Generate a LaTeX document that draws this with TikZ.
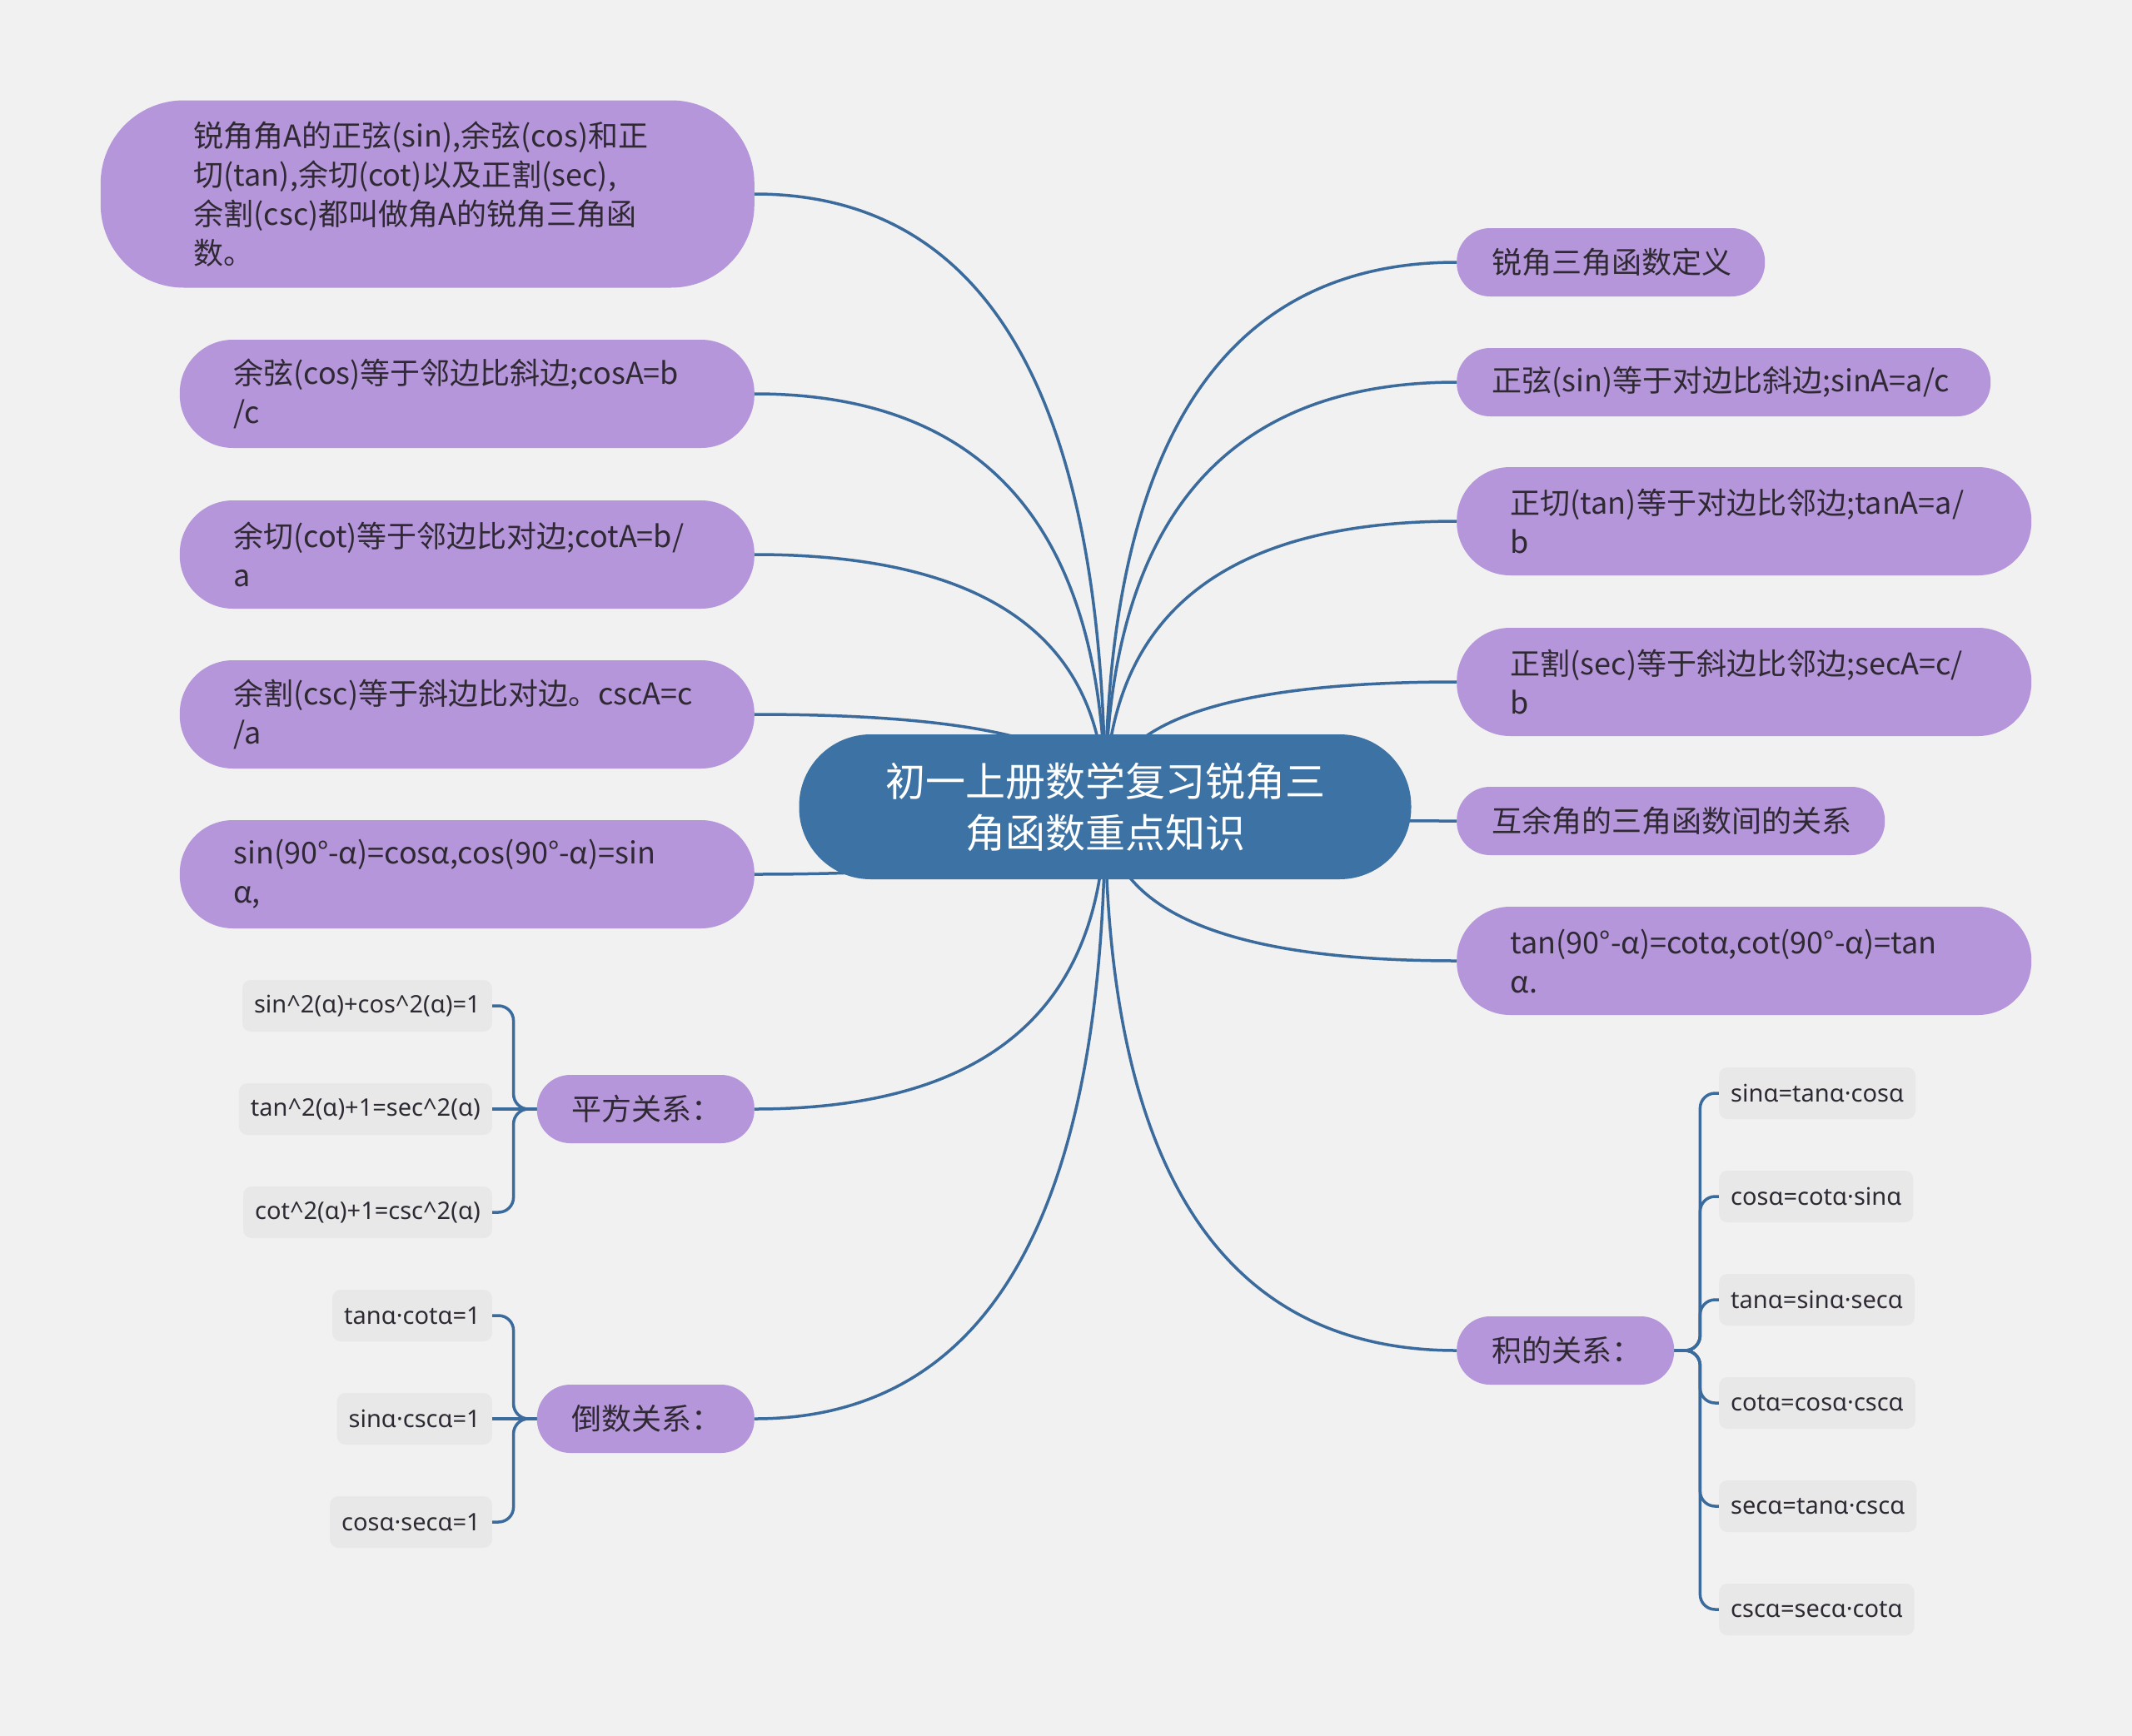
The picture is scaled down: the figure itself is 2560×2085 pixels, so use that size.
\documentclass[tikz,border=0pt]{standalone}
\usepackage{fontspec}
\setmainfont{Noto Sans CJK SC}
\newfontfamily\leaffont{Noto Sans}
\usepackage{tikz}
\usetikzlibrary{positioning, calc, backgrounds}
\usepackage{xcolor}
\definecolor{bgGray}{HTML}{F1F1F1}
\definecolor{rootBlue}{HTML}{3D72A4}
\definecolor{topicPurple}{HTML}{B696DA}
\definecolor{leafGray}{HTML}{E8E8E8}
\definecolor{lineBlue}{HTML}{3A6B9C}
\definecolor{inkDark}{HTML}{2E2933}
\hyphenpenalty=10000
\exhyphenpenalty=10000
\newcommand\caret{\char"5E\relax}

\begin{document}
\begin{tikzpicture}[x=1pt, y=-1pt,
    root/.style={fill=rootBlue, text=white, inner sep=0pt, minimum width=735pt, minimum height=174pt,
        rounded corners=86pt, align=center, font=\fontsize{48pt}{62pt}\selectfont},
    topic/.style={fill=topicPurple, text=inkDark, inner sep=0pt, minimum height=82pt,
        rounded corners=40pt, align=left, font=\fontsize{36pt}{47pt}\selectfont},
    twoline/.style={topic, minimum width=690pt, minimum height=130pt, rounded corners=64pt, text width=561pt},
    leaf/.style={fill=leafGray, text=inkDark, inner xsep=14pt, inner ysep=0pt, minimum height=62pt,
        rounded corners=10pt, font=\leaffont\fontsize{29pt}{34pt}\selectfont},
    branch/.style={draw=lineBlue, line width=3.5pt},
    twig/.style={draw=lineBlue, line width=3.5pt, rounded corners=18pt}]

    % Canvas
    \begin{scope}[on background layer]
        \fill[bgGray] (0,0) rectangle (2560,2085);
    \end{scope}
    \useasboundingbox (0,0) rectangle (2560,2085);

    % Root
    \node[root] (root) at (1327,969) {初一上册数学复习锐角三\\角函数重点知识};

    % Left topics
    \node[topic, anchor=east, minimum width=785pt, minimum height=225pt, rounded corners=100pt, text width=561pt]
        (def) at (906,233) {锐角角A的正弦(sin),余弦(cos)和正\\切(tan),余切(cot)以及正割(sec),\\余割(csc)都叫做角A的锐角三角函\\数。};
    \node[twoline, anchor=east] (cos) at (906,473) {余弦(cos)等于邻边比斜边;cosA=b\\/c};
    \node[twoline, anchor=east] (cot) at (906,666) {余切(cot)等于邻边比对边;cotA=b/\\a};
    \node[twoline, anchor=east] (csc) at (906,858) {余割(csc)等于斜边比对边。cscA=c\\/a};
    \node[twoline, anchor=east] (cofn) at (906,1050) {sin(90°-α)=cosα,cos(90°-α)=sin\\α,};
    \node[topic, anchor=east, minimum width=261pt, text width=177pt] (sq) at (906,1332) {平方关系：};
    \node[topic, anchor=east, minimum width=261pt, text width=177pt] (rec) at (906,1704) {倒数关系：};

    % Right topics
    \node[topic, anchor=west, minimum width=370pt, text width=286pt] (title) at (1749,315) {锐角三角函数定义};
    \node[topic, anchor=west, minimum width=641pt, text width=557pt] (sin) at (1749,459) {正弦(sin)等于对边比斜边;sinA=a/c};
    \node[twoline, anchor=west] (tan) at (1749,626) {正切(tan)等于对边比邻边;tanA=a/\\b};
    \node[twoline, anchor=west] (sec) at (1749,819) {正割(sec)等于斜边比邻边;secA=c/\\b};
    \node[topic, anchor=west, minimum width=514pt, text width=430pt] (comp) at (1749,986) {互余角的三角函数间的关系};
    \node[twoline, anchor=west] (cotn) at (1749,1154) {tan(90°-α)=cotα,cot(90°-α)=tan\\α.};
    \node[topic, anchor=west, minimum width=261pt, text width=177pt] (prod) at (1749,1622) {积的关系：};

    % Leaves of the square relations
    \node[leaf, anchor=east] (sq1) at (591,1208) {sin\caret2(α)+cos\caret2(α)=1};
    \node[leaf, anchor=east] (sq2) at (591,1332) {tan\caret2(α)+1=sec\caret2(α)};
    \node[leaf, anchor=east] (sq3) at (591,1456) {cot\caret2(α)+1=csc\caret2(α)};

    % Leaves of the reciprocal relations
    \node[leaf, anchor=east] (rec1) at (591,1580) {tanα·cotα=1};
    \node[leaf, anchor=east] (rec2) at (591,1704) {sinα·cscα=1};
    \node[leaf, anchor=east] (rec3) at (591,1828) {cosα·secα=1};

    % Leaves of the product relations
    \node[leaf, anchor=west] (pr1) at (2064,1313) {sinα=tanα·cosα};
    \node[leaf, anchor=west] (pr2) at (2064,1437) {cosα=cotα·sinα};
    \node[leaf, anchor=west] (pr3) at (2064,1561) {tanα=sinα·secα};
    \node[leaf, anchor=west] (pr4) at (2064,1685) {cotα=cosα·cscα};
    \node[leaf, anchor=west] (pr5) at (2064,1809) {secα=tanα·cscα};
    \node[leaf, anchor=west] (pr6) at (2064,1933) {cscα=secα·cotα};

    % Bracket knees
    \coordinate (sqk) at ($(sq.west)+(-28,0)$);
    \coordinate (reck) at ($(rec.west)+(-28,0)$);
    \coordinate (prk) at ($(prod.east)+(31,0)$);

    % Connectors
    \begin{scope}[on background layer]
        \foreach \t in {def.east, cos.east, cot.east, csc.east, cofn.east, sq.east, rec.east,
                        title.west, sin.west, tan.west, sec.west, comp.west, cotn.west, prod.west}
            \draw[branch] (root.center) .. controls ($(root.center)!2/3!(root.center |- \t)$)
                and ($(\t)!2/3!(root.center |- \t)$) .. (\t);
        \foreach \c in {sq1, sq3}
            \draw[twig] (sq.west) -- (sqk) |- (\c.east);
        \draw[twig] (sq.west) -- (sq2.east);
        \foreach \c in {rec1, rec3}
            \draw[twig] (rec.west) -- (reck) |- (\c.east);
        \draw[twig] (rec.west) -- (rec2.east);
        \foreach \c in {pr1, pr2, pr3, pr4, pr5, pr6}
            \draw[twig] (prod.east) -- (prk) |- (\c.west);
    \end{scope}
\end{tikzpicture}
\end{document}
